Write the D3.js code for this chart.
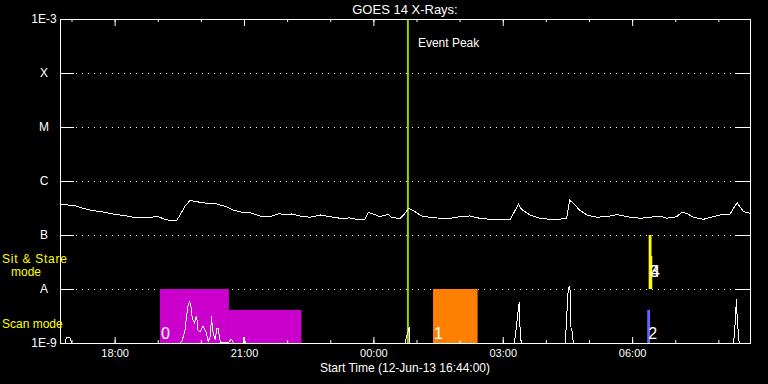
<!DOCTYPE html>
<html>
<head>
<meta charset="utf-8">
<script src="https://cdn.jsdelivr.net/npm/d3@7"></script>
<style>
  html, body { margin: 0; padding: 0; background: #000; }
  svg { display: block; }
  text { font-family: "Liberation Sans", Arial, sans-serif; fill: #fff; }
</style>
</head>
<body>
<div id="chart"></div>
<script>
// GOES 14 long channel (1-8 A), minutes after 12-Jun-13 16:44 UT
const longMinutes = [0, 21, 32, 46, 60, 74, 93, 107, 121, 135, 144, 153, 162, 167, 174, 181, 190, 204, 218, 232,
  241, 253, 264, 278, 292, 304, 315, 322, 334, 348, 362, 376, 390, 403, 413, 424, 429, 436, 445, 457,
  461, 473, 480, 485, 494, 503, 515, 529, 543, 557, 570, 584, 598, 612, 626, 631, 638, 642, 647, 654,
  661, 668, 682, 696, 705, 709, 714, 723, 733, 747, 765, 775, 789, 807, 821, 835, 844, 858, 865, 872,
  881, 895, 909, 918, 932, 942, 951, 960];
const longFlux = [3.71e-7, 3.49e-7, 3.12e-7, 2.82e-7, 2.67e-7, 2.45e-7, 2.25e-7, 2.07e-7, 2.07e-7, 2.22e-7,
  2.0e-7, 1.84e-7, 1.82e-7, 2.35e-7, 3.44e-7, 4.35e-7, 4.14e-7, 3.86e-7, 3.75e-7, 3.34e-7,
  2.90e-7, 2.63e-7, 2.60e-7, 2.25e-7, 2.18e-7, 2.48e-7, 2.38e-7, 2.45e-7, 2.25e-7, 2.13e-7,
  2.35e-7, 2.18e-7, 2.04e-7, 2.07e-7, 1.95e-7, 1.90e-7, 2.63e-7, 2.45e-7, 2.18e-7, 2.42e-7,
  2.13e-7, 2.0e-7, 2.52e-7, 3.12e-7, 2.70e-7, 2.25e-7, 2.13e-7, 2.04e-7, 2.04e-7, 2.18e-7,
  2.25e-7, 2.04e-7, 1.95e-7, 1.95e-7, 1.90e-7, 2.52e-7, 3.75e-7, 3.0e-7, 2.70e-7, 2.35e-7,
  2.18e-7, 2.04e-7, 1.95e-7, 1.97e-7, 2.04e-7, 4.45e-7, 3.86e-7, 2.90e-7, 2.35e-7, 2.13e-7,
  2.25e-7, 2.38e-7, 2.18e-7, 2.04e-7, 2.13e-7, 2.25e-7, 2.04e-7, 2.18e-7, 2.63e-7, 2.52e-7,
  2.13e-7, 1.95e-7, 2.18e-7, 2.35e-7, 2.42e-7, 3.96e-7, 2.70e-7, 2.52e-7];

// short channel (0.5-4 A), mostly under the 1E-9 floor
const shortMinutes = [0, 7, 9, 14, 16, 167, 170, 174, 176, 178, 180, 182, 184, 187, 190,
  192, 195, 199, 204, 206, 209, 211, 212, 216, 218, 220, 223, 234, 238, 242, 255, 256, 258,
  480, 486, 487, 632, 634, 637, 639, 640, 641, 643,
  703, 705, 707, 709, 710, 711, 713, 714, 715, 937, 938, 940, 941, 942, 944, 945, 960];
const shortFlux = [1e-9, 1e-9, 1.26e-9, 1.24e-9, 1e-9, 1e-9, 1.11e-9, 1.74e-9, 3.07e-9, 4.84e-9, 5.82e-9, 5.06e-9, 2.90e-9, 2.35e-9, 3.2e-9,
  1.74e-9, 1.62e-9, 2.06e-9, 1.51e-9, 1.06e-9, 1.31e-9, 3.16e-9, 1.74e-9, 1.14e-9, 1.87e-9, 1.87e-9, 1.04e-9, 1e-9, 1.19e-9, 1e-9, 1e-9, 1.31e-9, 1e-9,
  1e-9, 2.0e-9, 1e-9, 1e-9, 1.51e-9, 3.55e-9, 5.82e-9, 2.0e-9, 1.14e-9, 1e-9,
  1e-9, 3.07e-9, 9.58e-9, 1.14e-8, 8.33e-9, 1.87e-9, 1.62e-9, 1.04e-9, 1e-9, 1e-9, 1.31e-9, 3.07e-9, 6.53e-9, 3.3e-9, 1.31e-9, 1e-9, 1e-9];

// observation blocks (event number, minutes, flux range)
const blockEvent = [0, 0, 1, 2, 3, 4];
const blockStart = [139, 235, 519, 817, 819, 821];
const blockEnd = [235, 336, 581, 821, 823, 824];
const blockTop = [1e-8, 4.1e-9, 1e-8, 4.1e-9, 1e-7, 4.1e-8];
const blockBottom = [1e-9, 1e-9, 1e-9, 1e-9, 1e-8, 1e-8];

const eventPeakMinute = 484;

const levelValues = [1e-9, 1e-8, 1e-7, 1e-6, 1e-5, 1e-4, 1e-3];
const levelLabels = ['1E-9', 'A', 'B', 'C', 'M', 'X', '1E-3'];

const eventColors = ['#cc00cc', '#ff8000', '#6464ff', '#ffff00', '#ffff00'];

const width = 768;
const height = 384;
const margin = { top: 19, right: 18, bottom: 41, left: 60 };
const startTime = new Date(Date.UTC(2013, 5, 12, 16, 44));
const toDate = m => new Date(startTime.getTime() + m * 60000);

const svg = d3.select('#chart').append('svg')
  .attr('width', width)
  .attr('height', height)
  .style('background', '#000');

const x = d3.scaleUtc()
  .domain([startTime, toDate(960)])
  .range([margin.left, width - margin.right]);

const y = d3.scaleLog()
  .domain([1e-9, 1e-3])
  .range([height - margin.bottom, margin.top]);

svg.append('defs').append('clipPath').attr('id', 'plotClip')
  .append('rect')
  .attr('x', margin.left).attr('y', margin.top)
  .attr('width', width - margin.left - margin.right)
  .attr('height', height - margin.top - margin.bottom);

// title
svg.append('text')
  .attr('x', 405).attr('y', 14)
  .attr('text-anchor', 'middle')
  .attr('font-size', 13)
  .text('GOES 14 X-Rays:');

// dotted level lines and side ticks
const inner = levelValues.slice(1, -1);
svg.append('g').selectAll('line')
  .data(inner)
  .join('line')
  .attr('x1', margin.left + 16).attr('x2', width - margin.right - 16)
  .attr('y1', d => Math.round(y(d)) + 0.5).attr('y2', d => Math.round(y(d)) + 0.5)
  .attr('stroke', '#fff')
  .attr('stroke-dasharray', '1,5');

// observation blocks
svg.append('g').attr('clip-path', 'url(#plotClip)')
  .selectAll('rect')
  .data(blockEvent.map((ev, i) => ({ ev, i })))
  .join('rect')
  .attr('x', d => x(toDate(blockStart[d.i])))
  .attr('width', d => Math.max(2, x(toDate(blockEnd[d.i])) - x(toDate(blockStart[d.i]))))
  .attr('y', d => y(blockTop[d.i]))
  .attr('height', d => y(blockBottom[d.i]) - y(blockTop[d.i]))
  .attr('fill', d => eventColors[d.ev]);

// event peak line
svg.append('line')
  .attr('x1', x(toDate(eventPeakMinute))).attr('x2', x(toDate(eventPeakMinute)))
  .attr('y1', margin.top).attr('y2', height - margin.bottom)
  .attr('stroke', '#a0d000')
  .attr('stroke-width', 2);

svg.append('text')
  .attr('x', x(toDate(eventPeakMinute)) + 10).attr('y', 47)
  .attr('font-size', 12)
  .text('Event Peak');

// flux curves
const line = d3.line()
  .x(d => x(toDate(d[0])))
  .y(d => y(d[1]));

const curves = svg.append('g').attr('clip-path', 'url(#plotClip)');

curves.append('path')
  .datum(longMinutes.map((m, i) => [m, longFlux[i]]))
  .attr('d', line)
  .attr('fill', 'none')
  .attr('stroke', '#fff')
  .attr('stroke-width', 1)
  .attr('shape-rendering', 'crispEdges');

curves.append('path')
  .datum(shortMinutes.map((m, i) => [m, shortFlux[i]]))
  .attr('d', line)
  .attr('fill', 'none')
  .attr('stroke', '#fff')
  .attr('stroke-width', 1)
  .attr('shape-rendering', 'crispEdges');

// event numbers
const firstBlocks = blockEvent.map((ev, i) => ({ ev, i }))
  .filter(d => blockEvent.indexOf(d.ev) === d.i);

svg.append('g').selectAll('text')
  .data(firstBlocks)
  .join('text')
  .attr('x', d => x(toDate(blockStart[d.i])) + 1)
  .attr('y', d => y(blockBottom[d.i]) - (blockBottom[d.i] > 1e-9 ? 12 : 4))
  .attr('font-size', 16)
  .text(d => d.ev);

// axes
const xAxisMinor = d3.axisBottom(x).ticks(d3.utcHour.every(1)).tickSizeInner(-3).tickSizeOuter(0).tickFormat('');
const xAxisMajor = d3.axisBottom(x).ticks(d3.utcHour.every(3)).tickSizeInner(-6).tickSizeOuter(0)
  .tickPadding(6).tickFormat(d3.utcFormat('%H:%M'));

svg.append('g')
  .attr('transform', `translate(0,${height - margin.bottom})`)
  .call(xAxisMinor)
  .call(g => g.select('.domain').remove());

svg.append('g')
  .attr('transform', `translate(0,${height - margin.bottom})`)
  .call(xAxisMajor)
  .call(g => g.select('.domain').remove())
  .call(g => g.selectAll('text').attr('font-size', 11).attr('font-family', null));

svg.append('g')
  .attr('transform', `translate(0,${margin.top})`)
  .call(d3.axisTop(x).ticks(d3.utcHour.every(1)).tickSizeInner(-3).tickSizeOuter(0).tickFormat(''))
  .call(g => g.select('.domain').remove());

svg.append('g')
  .attr('transform', `translate(0,${margin.top})`)
  .call(d3.axisTop(x).ticks(d3.utcHour.every(3)).tickSizeInner(-7).tickSizeOuter(0).tickFormat(''))
  .call(g => g.select('.domain').remove());

svg.append('g')
  .attr('transform', `translate(${margin.left},0)`)
  .call(d3.axisLeft(y).tickValues(levelValues).tickSizeInner(-14).tickSizeOuter(0)
    .tickFormat((d, i) => levelLabels[i]))
  .call(g => g.select('.domain').remove())
  .call(g => g.selectAll('text')
    .attr('x', -16).attr('text-anchor', 'middle')
    .attr('font-size', 12).attr('font-family', null));

svg.append('g')
  .attr('transform', `translate(${width - margin.right},0)`)
  .call(d3.axisRight(y).tickValues(inner).tickSizeInner(-15).tickSizeOuter(0).tickFormat(''))
  .call(g => g.select('.domain').remove());

svg.selectAll('.tick line').attr('stroke', '#fff');

// frame
svg.append('rect')
  .attr('x', margin.left + 0.5).attr('y', margin.top + 0.5)
  .attr('width', width - margin.left - margin.right)
  .attr('height', height - margin.top - margin.bottom)
  .attr('fill', 'none')
  .attr('stroke', '#fff');

svg.append('text')
  .attr('x', 405).attr('y', 372)
  .attr('text-anchor', 'middle')
  .attr('font-size', 12)
  .text('Start Time (12-Jun-13 16:44:00)');

// mode labels
const modeLabels = svg.append('g').attr('font-size', 12);
modeLabels.append('text').attr('x', 2).attr('y', 263)
  .attr('textLength', 65).attr('lengthAdjust', 'spacing')
  .style('fill', '#ffff00').text('Sit & Stare');
modeLabels.append('text').attr('x', 11).attr('y', 276)
  .style('fill', '#ffff00').text('mode');
modeLabels.append('text').attr('x', 2).attr('y', 328)
  .style('fill', '#ffff00').text('Scan mode');
</script>
</body>
</html>
